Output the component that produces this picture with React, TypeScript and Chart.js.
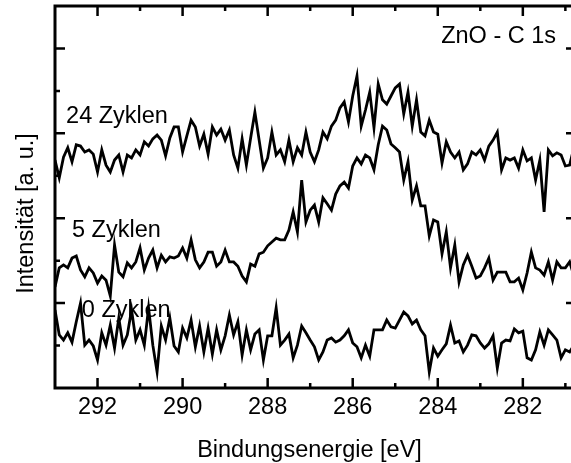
import { useEffect, useRef } from "react";
import { Chart, registerables } from "chart.js";

Chart.register(...registerables);

// Binding-energy grid of the C 1s scans (eV), highest energy first.
const energyStart = 293.0;
const energyStep = 0.1;

// Intensity (a. u.) after 24 ALD cycles
const intensity24 = [
  5.37, 4.95, 5.44, 5.66, 5.33, 5.73, 5.70, 5.56, 5.61, 5.51,
  5.09, 5.61, 5.25, 5.09, 5.37, 5.49, 5.09, 5.49, 5.42, 5.61,
  5.49, 5.80, 5.70, 5.87, 5.96, 5.84, 5.47, 5.89, 6.15, 6.15,
  5.56, 5.94, 6.31, 6.15, 5.70, 5.98, 5.51, 6.15, 5.96, 6.10,
  5.84, 6.08, 5.49, 5.18, 5.87, 5.25, 5.89, 6.50, 5.84, 5.18,
  5.42, 6.03, 5.49, 5.61, 5.33, 5.84, 5.33, 5.66, 5.49, 6.03,
  5.56, 5.33, 5.61, 6.03, 5.87, 6.17, 6.31, 6.60, 6.74, 6.27,
  6.88, 7.35, 6.17, 6.55, 6.97, 6.13, 7.16, 6.79, 6.69, 6.88,
  7.07, 7.16, 6.46, 6.97, 6.17, 6.79, 6.03, 5.94, 6.31, 6.03,
  5.98, 5.30, 5.80, 5.56, 5.42, 5.56, 5.14, 5.28, 5.56, 5.49,
  5.61, 5.37, 5.70, 5.84, 6.03, 5.14, 5.42, 5.37, 5.42, 5.18,
  5.61, 5.35, 5.42, 4.90, 5.37, 4.15, 5.61, 5.47, 5.54, 5.49,
  5.23, 5.25, 5.66,
];

// Intensity (a. u.) after 5 ALD cycles
const intensity5 = [
  2.38, 2.83, 2.90, 2.83, 3.06, 3.11, 2.78, 2.62, 2.83, 2.71,
  2.47, 2.64, 2.54, 2.17, 3.37, 2.73, 2.62, 2.95, 2.83, 2.97,
  3.30, 2.78, 3.06, 3.25, 2.83, 3.13, 2.97, 3.09, 3.06, 3.11,
  3.30, 3.06, 3.49, 3.02, 2.83, 2.97, 3.20, 3.20, 2.87, 2.97,
  3.25, 2.97, 2.97, 2.87, 2.64, 2.50, 2.92, 2.87, 3.16, 3.20,
  3.35, 3.44, 3.53, 3.49, 3.49, 3.72, 4.15, 3.68, 4.90, 3.91,
  4.19, 4.31, 3.91, 4.48, 4.34, 4.19, 4.57, 4.76, 4.85, 4.71,
  5.23, 5.42, 5.28, 5.49, 5.42, 5.14, 5.73, 6.17, 6.08, 5.75,
  5.66, 5.56, 4.90, 5.33, 4.43, 4.76, 4.29, 4.29, 3.58, 3.96,
  3.91, 3.16, 3.68, 2.83, 3.37, 2.50, 2.90, 3.13, 2.87, 2.59,
  2.64, 2.83, 3.06, 2.54, 2.73, 2.73, 2.73, 2.50, 2.50, 2.59,
  2.31, 2.71, 3.20, 2.83, 2.78, 2.66, 2.97, 2.54, 2.97, 2.83,
  2.83, 2.97, 2.64,
];

// Intensity (a. u.) of the uncoated reference
const intensity0 = [
  1.84, 1.25, 1.13, 1.30, 1.08, 1.56, 2.00, 1.01, 1.13, 0.99,
  0.66, 1.30, 1.01, 1.48, 0.94, 1.65, 1.01, 1.25, 1.84, 1.13,
  1.37, 1.01, 1.89, 1.01, 0.38, 1.46, 1.13, 1.65, 0.99, 0.85,
  1.41, 1.18, 1.60, 0.97, 1.46, 0.85, 1.41, 0.80, 1.37, 0.90,
  1.23, 1.72, 1.25, 1.56, 0.78, 1.37, 0.90, 1.27, 1.37, 0.66,
  1.23, 1.23, 1.89, 1.01, 1.13, 1.27, 0.71, 1.01, 1.46, 1.30,
  1.13, 0.97, 0.66, 0.85, 1.13, 1.18, 1.08, 1.13, 1.23, 1.37,
  1.06, 0.97, 0.71, 1.01, 0.75, 1.37, 1.37, 1.37, 1.60, 1.44,
  1.41, 1.60, 1.79, 1.70, 1.51, 1.60, 1.37, 1.23, 0.38, 0.94,
  0.75, 0.90, 1.04, 1.48, 1.06, 1.11, 0.85, 1.01, 1.25, 1.23,
  1.06, 0.94, 1.04, 1.23, 0.47, 1.06, 1.13, 1.11, 1.39, 1.30,
  1.34, 0.71, 0.66, 0.90, 1.32, 1.01, 1.37, 1.25, 1.13, 0.71,
  0.90, 0.85, 1.01,
];

const energies = intensity0.map((_, i) => +(energyStart - i * energyStep).toFixed(2));

const xTickLabels = [292, 290, 288, 286, 284, 282];
const xMinorTicks = [291, 289, 287, 285, 283, 281];
const yMajorTicks = [2, 4, 6, 8];
const yMinorTicks = [1, 3, 5, 7];

const seriesNames = ["24 Zyklen", "5 Zyklen", "0 Zyklen"];
const seriesLabelEnergy = [292.74, 292.6, 292.37];
const seriesLabelIntensity = [6.24, 3.56, 1.67];

const panelTitle = "ZnO - C 1s";
const panelTitleEnergy = 283.92;
const panelTitleIntensity = 8.13;

const xTitle = "Bindungsenergie [eV]";
const yTitle = "Intensität [a. u.]";

const FONT = '"Liberation Sans", Arial, Helvetica, sans-serif';
const FONT_SIZE = 23.5;

const framePlugin = {
  id: "xpsFrame",
  afterDatasetsDraw(chart: any) {
    const { ctx, chartArea: a, scales } = chart;
    const x = scales.x;
    const y = scales.y;
    ctx.save();
    ctx.strokeStyle = "#000";
    ctx.lineCap = "butt";
    ctx.lineJoin = "miter";

    // box around the plot area
    ctx.lineWidth = 3;
    ctx.strokeRect(a.left, a.top, a.right - a.left, a.bottom - a.top);

    // inward tick marks on all four sides
    ctx.lineWidth = 2.5;
    ctx.beginPath();
    const xTick = (v: number, len: number) => {
      const px = x.getPixelForValue(v);
      ctx.moveTo(px, a.bottom);
      ctx.lineTo(px, a.bottom - len);
      ctx.moveTo(px, a.top);
      ctx.lineTo(px, a.top + len);
    };
    const yTick = (v: number, len: number) => {
      const py = y.getPixelForValue(v);
      ctx.moveTo(a.left, py);
      ctx.lineTo(a.left + len, py);
      ctx.moveTo(a.right, py);
      ctx.lineTo(a.right - len, py);
    };
    xTickLabels.forEach((v) => xTick(v, 10));
    xMinorTicks.forEach((v) => xTick(v, 5));
    yMajorTicks.forEach((v) => yTick(v, 10));
    yMinorTicks.forEach((v) => yTick(v, 5));
    ctx.stroke();

    // text labels
    ctx.fillStyle = "#000";
    ctx.font = `${FONT_SIZE}px ${FONT}`;
    ctx.textAlign = "left";
    ctx.textBaseline = "alphabetic";
    seriesNames.forEach((name, i) => {
      ctx.fillText(
        name,
        x.getPixelForValue(seriesLabelEnergy[i]),
        y.getPixelForValue(seriesLabelIntensity[i])
      );
    });
    ctx.fillText(
      panelTitle,
      x.getPixelForValue(panelTitleEnergy),
      y.getPixelForValue(panelTitleIntensity)
    );

    // axis titles
    ctx.textAlign = "center";
    ctx.fillText(xTitle, 309.5, 457);
    ctx.translate(33, 213.5);
    ctx.rotate(-Math.PI / 2);
    ctx.fillText(yTitle, 0, 0);
    ctx.restore();
  },
};

export default function App() {
  const canvasRef = useRef<HTMLCanvasElement | null>(null);

  useEffect(() => {
    const canvas = canvasRef.current;
    if (!canvas) return;
    const series = [intensity24, intensity5, intensity0];
    const chart = new Chart(canvas, {
      type: "line",
      data: {
        datasets: series.map((vals, i) => ({
          label: seriesNames[i],
          data: vals.map((v, j) => ({ x: energies[j], y: v })),
          borderColor: "#000",
          borderWidth: 2.8,
          pointRadius: 0,
          tension: 0,
          fill: false,
        })),
      },
      options: {
        animation: false,
        responsive: false,
        events: [],
        layout: { padding: { left: 55, top: 6, right: 24, bottom: 0 } },
        plugins: {
          legend: { display: false },
          tooltip: { enabled: false },
        },
        scales: {
          x: {
            type: "linear",
            reverse: true,
            min: 280.75,
            max: 293,
            grid: { display: false, drawTicks: false },
            border: { display: false },
            ticks: {
              color: "#000",
              font: { family: FONT, size: FONT_SIZE },
              padding: 5,
              maxRotation: 0,
              autoSkip: false,
            },
            afterBuildTicks: (s: any) => {
              s.ticks = xTickLabels.map((v) => ({ value: v }));
            },
            afterFit: (s: any) => {
              s.height = 75;
            },
          },
          y: {
            type: "linear",
            min: 0,
            max: 9,
            display: false,
          },
        },
      },
      plugins: [framePlugin],
    });
    return () => chart.destroy();
  }, []);

  return (
    <div
      style={{
        position: "fixed",
        left: 0,
        top: 0,
        width: 571,
        height: 463,
        overflow: "hidden",
        background: "#fff",
      }}
    >
      <canvas ref={canvasRef} width={600} height={463} style={{ display: "block" }} />
    </div>
  );
}
